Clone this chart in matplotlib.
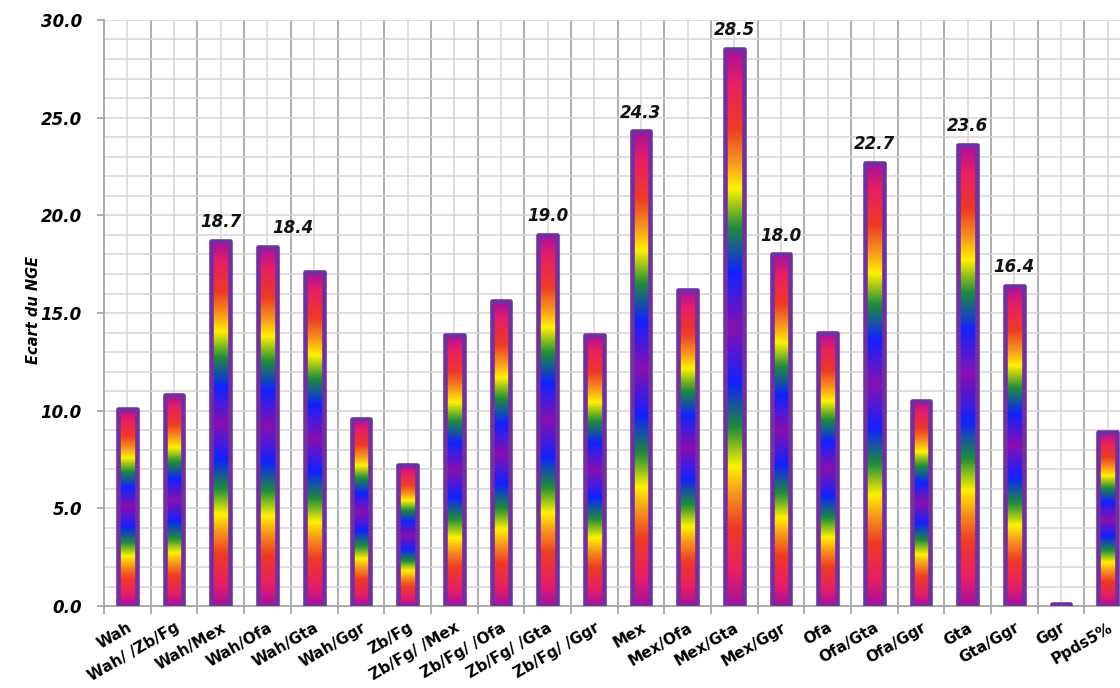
import numpy as np
import matplotlib
matplotlib.use("Agg")
import matplotlib.pyplot as plt
from matplotlib.colors import LinearSegmentedColormap
from matplotlib.ticker import MultipleLocator, FixedLocator, NullFormatter

# Data
categories = ["Wah", "Wah/ /Zb/Fg", "Wah/Mex", "Wah/Ofa", "Wah/Gta", "Wah/Ggr",
              "Zb/Fg", "Zb/Fg/ /Mex", "Zb/Fg/ /Ofa", "Zb/Fg/ /Gta", "Zb/Fg/ /Ggr",
              "Mex", "Mex/Ofa", "Mex/Gta", "Mex/Ggr", "Ofa", "Ofa/Gta", "Ofa/Ggr",
              "Gta", "Gta/Ggr", "Ggr", "Ppds5%"]
ecart = [10.1, 10.8, 18.7, 18.4, 17.1, 9.6,
         7.2, 13.9, 15.6, 19.0, 13.9,
         24.3, 16.2, 28.5, 18.0, 14.0, 22.7, 10.5,
         23.6, 16.4, 0.1, 8.9]
# bars that carry a value label in the reference
labelled = ["Wah/Mex", "Wah/Ofa", "Zb/Fg/ /Gta", "Mex", "Mex/Gta", "Mex/Ggr",
            "Ofa/Gta", "Gta", "Gta/Ggr"]

# rainbow fill, mirrored around the middle of each bar
half = [(0.00, "#a8109f"), (0.12, "#e81e63"), (0.28, "#ee3a24"), (0.40, "#f7941d"),
        (0.50, "#fff200"), (0.64, "#1e8c3a"), (0.80, "#1022ff"), (1.00, "#8a10b0")]
stops = [(p / 2, c) for p, c in half] + [(1 - p / 2, c) for p, c in reversed(half[:-1])]
rainbow = LinearSegmentedColormap.from_list("rainbow_bar", stops)

fig = plt.figure(figsize=(11.2, 6.88), dpi=100)
ax = fig.add_axes([0.093, 0.119, 0.9167, 0.852])

x = np.arange(len(categories))
width = 0.40
bars = ax.bar(x, ecart, width=width, facecolor="none", edgecolor="#7030a0",
              linewidth=3.3, zorder=3, joinstyle="round")

grad = np.linspace(0, 1, 256).reshape(-1, 1)
for rect, val in zip(bars, ecart):
    x0 = rect.get_x()
    im = ax.imshow(grad, cmap=rainbow, aspect="auto", origin="lower",
                   extent=[x0, x0 + width, 0, val], zorder=2, interpolation="bilinear")
    im.set_clip_path(rect)

# value labels
for i, (cat, val) in enumerate(zip(categories, ecart)):
    if cat in labelled:
        dx = 0.55 if cat == "Wah/Ofa" else 0.0
        ax.text(i + dx, val + 0.5, f"{val:.1f}", ha="center", va="bottom",
                fontsize=12, fontweight="bold", fontstyle="italic", color="#111111")

ax.set_xlim(-0.5, len(categories) - 0.5)
ax.set_ylim(0, 30)

# grid: minor horizontal every 1, vertical at centres (light) and boundaries (dark)
ax.yaxis.set_major_locator(MultipleLocator(5))
ax.yaxis.set_minor_locator(MultipleLocator(1))
ax.yaxis.set_major_formatter(lambda v, p: f"{v:.1f}")
ax.grid(which="both", axis="y", color="#d6d6d6", linewidth=1.1, zorder=0)
for b in np.arange(0.5, len(categories), 1.0):
    ax.axvline(b, color="#a0a0a0", linewidth=1.2, zorder=0)
for c in x:
    ax.axvline(c, color="#d6d6d6", linewidth=1.1, zorder=0)
ax.set_axisbelow(True)

ax.xaxis.set_major_locator(FixedLocator(x))
ax.xaxis.set_minor_locator(FixedLocator(np.arange(-0.5, len(categories), 1.0)))
ax.xaxis.set_minor_formatter(NullFormatter())
ax.set_xticklabels(categories, rotation=30, ha="right", rotation_mode="anchor",
                   fontsize=11, fontweight="bold")
ax.tick_params(axis="x", which="major", length=0, pad=10)
ax.tick_params(axis="x", which="minor", length=6, color="#a0a0a0", width=1.2)
ax.tick_params(axis="y", which="major", length=5, color="#a0a0a0", width=1.2, pad=11)
ax.tick_params(axis="y", which="minor", length=0)
for lbl in ax.get_yticklabels():
    lbl.set_fontweight("bold")
    lbl.set_fontstyle("italic")
    lbl.set_fontsize(12)

for side in ["top", "right"]:
    ax.spines[side].set_visible(False)
for side in ["left", "bottom"]:
    ax.spines[side].set_color("#a0a0a0")
    ax.spines[side].set_linewidth(1.2)

fig.text(0.030, 0.55, "Ecart du NGE", rotation=90, ha="center", va="center",
         fontsize=10.5, fontstyle="italic", fontweight="bold",
         family=["Liberation Sans Narrow", "DejaVu Sans"])

fig.savefig("out.png", dpi=100)
